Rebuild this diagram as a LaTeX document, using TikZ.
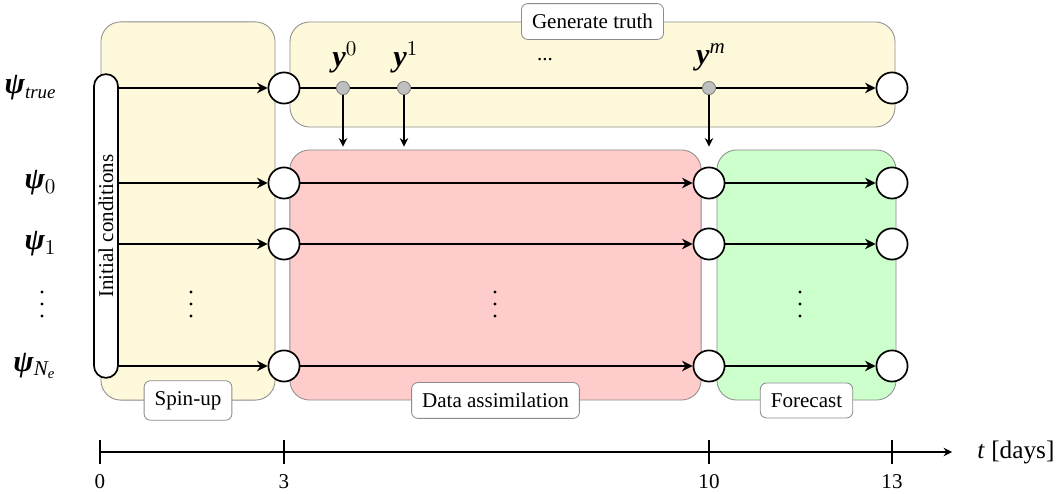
\documentclass[tikz,border=0pt]{standalone}
\usepackage{amsmath,amssymb}
\usepackage{fontspec}
\setmainfont{Liberation Serif}
\usepackage{tikz}
\usetikzlibrary{arrows.meta}
\usetikzlibrary{positioning}

\definecolor{spinfill}{HTML}{FFF9DB}
\definecolor{dafill}{HTML}{FFCCCC}
\definecolor{fcfill}{HTML}{CCFFCC}
\definecolor{boxline}{HTML}{8C8C8C}

% bold italic letters taken from the text font
\newcommand{\bpsi}{\textbf{\textit{ψ}}}
\newcommand{\by}{\textbf{\textit{y}}}
\newcommand{\itx}[1]{\text{\itshape #1}}

\begin{document}
\begin{tikzpicture}[x=0.0167cm, y=-0.0167cm,
		phase/.style={draw=boxline, rounded corners=0.33cm, inner sep=0pt},
		tag/.style={draw=boxline, fill=white, rounded corners=3pt, inner sep=5pt},
		state/.style={circle, draw, thick, fill=white, minimum size=0.52cm, inner sep=0pt},
		obs/.style={circle, draw=gray, fill=gray!50, minimum size=0.22cm, inner sep=0pt},
		member/.style={anchor=east, font=\Large, inner xsep=0pt},
		run/.style={-{Stealth[length=5pt,width=5pt]}, line width=1pt},
		feed/.style={-{Stealth[length=4pt,width=4pt]}, semithick}]
	\useasboundingbox (0,0) rectangle (1064,494);

	% phases
	\node[phase, fill=spinfill, minimum width=2.906cm, minimum height=6.313cm] (spinup) at (188,211) {};
	\node[phase, fill=spinfill, minimum width=10.1cm, minimum height=1.754cm] (truth) at (592.5,74.5) {};
	\node[phase, fill=dafill, minimum width=6.864cm, minimum height=4.175cm] (da) at (495.5,275) {};
	\node[phase, fill=fcfill, minimum width=2.989cm, minimum height=4.175cm] (fc) at (806.5,275) {};
	\node[tag] (spintag) at (spinup.south) {Spin-up};
	\node[tag] (truthtag) at (truth.north) {Generate truth};
	\node[tag] (datag) at (da.south) {Data assimilation};
	\node[tag] (fctag) at (fc.south) {Forecast};

	\node[draw, thick, fill=white, rounded corners=0.2cm, rotate=90, minimum width=5.07cm,
		minimum height=0.4cm, inner sep=0pt] (ic) at (106,226) {Initial conditions};

	% truth run and observations
	\node[member] (lbltrue) at (57,88) {\bpsi$_{\text{\fontsize{9}{10}\selectfont\itshape true}}$};
	\node[state] (t3) at (284,88) {};
	\node[state] (t13) at (892,88) {};
	\draw[run] (ic.south |- t3) -- (t3);
	\draw[run] (t3) -- (t13);
	\foreach \n/\x/\lab in {0/343/0, 1/404/1, m/709/\itx{m}} {
		\node[obs] (o\n) at (\x,88) {};
		\node[font=\Large] (y\n) at (\x+2,57) {\by$^{\lab}$};
		\draw[feed] (o\n) -- ([yshift=0.05cm]da.north -| o\n);
	}
	\node[anchor=base] (ydots) at (545,61) {...};

	% ensemble members
	\foreach \r/\y/\lbl in {0/183/0, 1/244/1, e/366/\itx{N}_{\itx{e}}} {
		\node[member] (lbl\r) at (57,\y) {\bpsi$_{\lbl}$};
		\node[state] (a\r) at (284,\y) {};
		\node[state] (b\r) at (709,\y) {};
		\node[state] (c\r) at (892,\y) {};
		\draw[run] (ic.south |- a\r) -- (a\r);
		\draw[run] (a\r) -- (b\r);
		\draw[run] (b\r) -- (c\r);
	}
	% vertical dots for the remaining members
	\foreach \x in {42, 191, 495, 800}
		\foreach \y in {292, 304, 316}
			\fill (\x,\y) circle (0.026cm);

	% time axis
	\coordinate (tstart) at (100,452);
	\coordinate (tend) at (952,452);
	\draw[-{Stealth[length=4pt,width=4pt]}, semithick] (tstart) -- (tend);
	\foreach \d/\x in {0/100, 3/284, 10/709, 13/892} {
		\draw[semithick] (\x,440) -- (\x,464);
		\node (tick\d) at (\x,482) {\d};
	}
	\node[anchor=west, font=\large] (tlabel) at (970,452) {\textit{t} [days]};
\end{tikzpicture}
\end{document}
